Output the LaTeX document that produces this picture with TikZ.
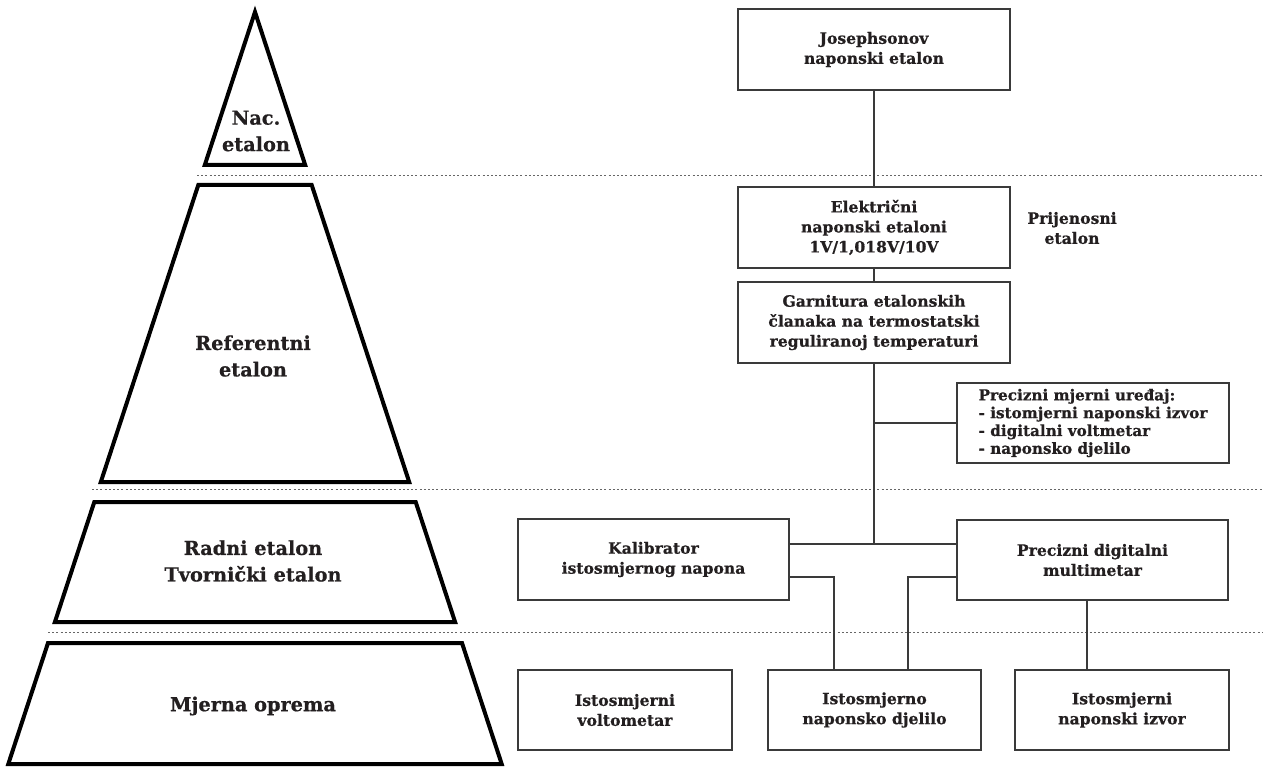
\documentclass[tikz,border=0pt]{standalone}
\usepackage{fontspec}
\setmainfont{DejaVu Serif}[BoldFeatures={FakeBold=0.6}]
\usetikzlibrary{calc}
\definecolor{ink}{HTML}{231F20}
\definecolor{edge}{HTML}{3A3A3A}
\begin{document}
\begin{tikzpicture}[x=1pt,y=-1pt,
  every node/.style={text=ink,font=\bfseries\fontsize{15.6}{20}\selectfont},
  box/.style={draw=edge,line width=1.3pt,minimum width=272pt,minimum height=81pt,align=center,inner sep=0pt},
  sbox/.style={box,minimum width=214pt,minimum height=80pt},
  conn/.style={draw=edge,line width=1.1pt},
  sep/.style={draw=gray!80!black,line width=0.9pt,dash pattern=on 2pt off 2.2pt},
  pyr/.style={draw=black,line width=4pt,line join=miter},
  lvl/.style={align=center,font=\bfseries\fontsize{19.3}{26.5}\selectfont}]
\useasboundingbox (0,0) rectangle (1265,767);
\fill[white] (0,0) rectangle (1265,767);
% separators
\draw[sep] (197,175) -- (1262,175);
\draw[sep] (92,489) -- (1262,489);
\draw[sep] (48,632) -- (1262,632);
% pyramid
\draw[pyr] (255,12) -- (305.2,165) -- (204.8,165) -- cycle;
\draw[pyr] (198.3,185) -- (311.7,185) -- (409.2,482) -- (100.8,482) -- cycle;
\draw[pyr] (94.3,502) -- (415.7,502) -- (455.1,622) -- (54.9,622) -- cycle;
\draw[pyr] (48,643) -- (462,643) -- (501.7,764) -- (8.3,764) -- cycle;
\node[lvl] (l1) at (256,131) {Nac.\\etalon};
\node[lvl] (l2) at (253,356) {Referentni\\etalon};
\node[lvl] (l3) at (253,561) {Radni etalon\\Tvornički etalon};
\node[lvl] (l4) at (253,706) {Mjerna oprema};
% boxes
\node[box] (jos) at (874,49.5) {Josephsonov\\naponski etalon};
\node[box] (ele) at (874,227.5) {Električni\\naponski etaloni\\1V/1,018V/10V};
\node (prij) at (1072,228) [align=center] {Prijenosni\\etalon};
\node[box] (gar) at (874,322.5) {Garnitura etalonskih\\članaka na termostatski\\reguliranoj temperaturi};
\node[box,minimum height=80pt,align=left,font=\bfseries\fontsize{15.2}{17.8}\selectfont] (pre) at (1093,423) {Precizni mjerni uređaj:\\- istomjerni naponski izvor\\- digitalni voltmetar\\- naponsko djelilo};
\node[box,minimum width=271pt] (kal) at (653.5,559.5) {Kalibrator\\istosmjernog napona};
\node[box,minimum width=271pt,minimum height=80pt] (mul) at (1092.5,560) {Precizni digitalni\\multimetar};
\node[sbox] (vol) at (625,710) {Istosmjerni\\voltometar};
\node[sbox,minimum width=213pt] (dje) at (874.5,710) {Istosmjerno\\naponsko djelilo};
\node[sbox] (izv) at (1122,710) {Istosmjerni\\naponski izvor};
% connectors
\coordinate (jn) at (873,544);
\coordinate (k1) at (834,577);
\coordinate (m1) at (908,577);
\coordinate (m2) at (1087,600);
\draw[conn] (jos.south) -- (ele.north);
\draw[conn] (ele.south) -- (gar.north);
\draw[conn] (gar.south) -- (gar.south |- jn);
\draw[conn] (gar.south |- pre.west) -- (pre.west);
\draw[conn] (kal.east |- jn) -- (mul.west |- jn);
\draw[conn] (kal.east |- k1) -- (k1) -- (k1 |- dje.north);
\draw[conn] (mul.west |- m1) -- (m1) -- (m1 |- dje.north);
\draw[conn] (mul.south -| m2) -- (izv.north -| m2);
\end{tikzpicture}
\end{document}
